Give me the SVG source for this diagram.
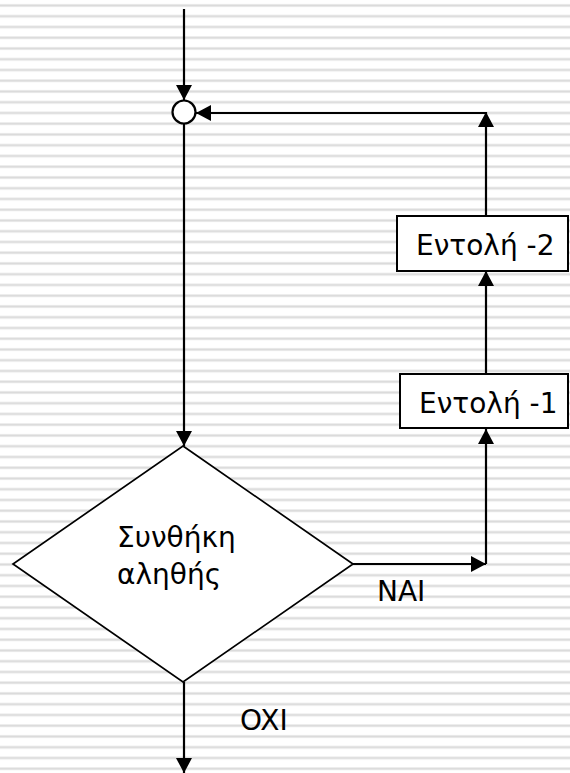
<svg xmlns="http://www.w3.org/2000/svg" width="570" height="773" viewBox="0 0 570 773">
  <defs>
    <!-- narrow horizontal line background -->
    <pattern id="stripes" x="0" y="0" width="20" height="10.75" patternUnits="userSpaceOnUse">
      <rect x="0" y="4" width="20" height="3" fill="#ebebeb"/>
      <rect x="0" y="4.8" width="20" height="1.4" fill="#dadada"/>
    </pattern>
    <marker id="arrow" viewBox="0 0 15 16" refX="15" refY="8" markerWidth="15" markerHeight="16" markerUnits="userSpaceOnUse" orient="auto">
      <path d="M0,0 L15,8 L0,16 z" fill="#000"/>
    </marker>
    <style>
      .flow { fill: none; stroke: #000; stroke-width: 2.2; }
      .arrowed { marker-end: url(#arrow); }
      .box { fill: #fff; stroke: #000; stroke-width: 2; }
      .decision { fill: #fff; stroke: #000; stroke-width: 1.7; }
      .label { font-family: "DejaVu Sans", Verdana, sans-serif; font-size: 28px; fill: #000; }
    </style>
  </defs>

  <rect width="570" height="773" fill="#fff"/>
  <rect width="570" height="773" fill="url(#stripes)"/>

  <g id="connectors">
    <path class="flow arrowed" d="M184,9 V100"/>
    <path class="flow arrowed" d="M184,124 V446"/>
    <path class="flow arrowed" d="M353,564 H486"/>
    <path class="flow arrowed" d="M486,564 V429"/>
    <path class="flow arrowed" d="M486,374 V271"/>
    <path class="flow arrowed" d="M486,216 V112"/>
    <path class="flow arrowed" d="M486,113 H196"/>
    <path class="flow arrowed" d="M184,682 V773"/>
  </g>

  <g id="junction">
    <circle cx="184" cy="112" r="11.5" fill="#fff" stroke="#000" stroke-width="2.2"/>
  </g>

  <g id="condition">
    <polygon class="decision" points="183,446 353,564 183,682 13,564"/>
    <text class="label" x="117" y="547">Συνθήκη</text>
    <text class="label" x="117" y="584">αληθής</text>
  </g>

  <g id="command-1">
    <rect class="box" x="400" y="374" width="168" height="54"/>
    <text class="label" x="419" y="413">Εντολή -1</text>
  </g>

  <g id="command-2">
    <rect class="box" x="397" y="216" width="171" height="55"/>
    <text class="label" x="416" y="255">Εντολή -2</text>
  </g>

  <g id="branch-labels">
    <text class="label" x="377" y="601">NAI</text>
    <text class="label" x="240" y="730">OXI</text>
  </g>
</svg>
